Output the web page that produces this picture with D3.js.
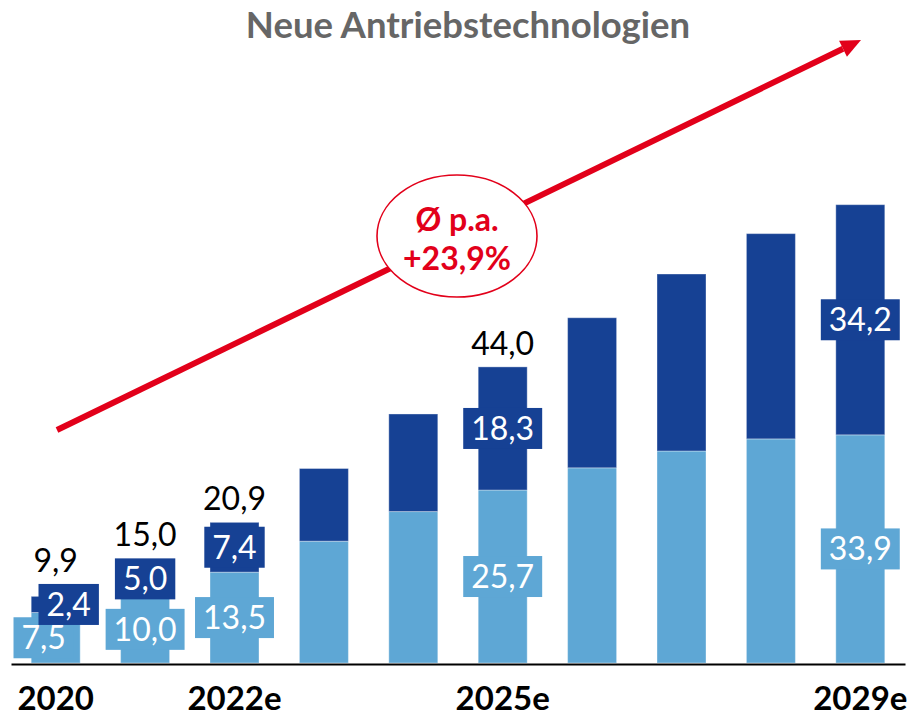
<!DOCTYPE html>
<html>
<head>
<meta charset="utf-8">
<script src="https://cdn.jsdelivr.net/npm/d3@7/dist/d3.min.js"></script>
<style>
  html, body { margin: 0; padding: 0; background: #fff; }
  svg { display: block; font-family: Lato, "Open Sans", sans-serif; }
</style>
</head>
<body>
<svg id="chart" width="912" height="716"></svg>
<script>
// ---- data ----
const categories = ["2020", "2021e", "2022e", "2023e", "2024e", "2025e", "2026e", "2027e", "2028e", "2029e"];
const tickLabels = ["2020", "2022e", "2025e", "2029e"];
const lightValues = [7.5, 10.0, 13.5, 18.1, 22.5, 25.7, 29.0, 31.5, 33.3, 33.9];
const darkValues  = [2.4, 5.0, 7.4, 10.8, 14.5, 18.3, 22.3, 26.3, 30.5, 34.2];
const segmentLabelShown = [true, true, true, false, false, true, false, false, false, true];
const totalLabelShown   = [true, true, true, false, false, true, false, false, false, false];
const titleText = "Neue Antriebstechnologien";
const badgeLines = ["Ø p.a.", "+23,9%"];

// ---- setup ----
const svg = d3.select("#chart");
const DARK = "#164194", LIGHT = "#5ea7d5", RED = "#e2001a";
const fmt = d3.formatLocale({decimal: ",", thousands: ".", grouping: [3], currency: ["", "€"]}).format(".1f");

const x = d3.scaleBand().domain(categories).range([11, 905]).paddingInner(0.452).paddingOuter(0.226);
const y = d3.scaleLinear().domain([0, 70]).range([663, 663 - 70 * 6.73]);

const rows = categories.map((c, i) => ({
  cat: c, light: lightValues[i], dark: darkValues[i],
  total: lightValues[i] + darkValues[i],
  seg: segmentLabelShown[i], tot: totalLabelShown[i]
}));

// title
svg.append("text").attr("x", 468).attr("y", 38).attr("text-anchor", "middle")
  .attr("font-size", 36.5).attr("font-weight", 700).attr("fill", "#666666").text(titleText);

// arrow
const T = [861, 40], S = [57, 430];
const dx = T[0] - S[0], dy = T[1] - S[1], L = Math.hypot(dx, dy);
const u = [dx / L, dy / L], nrm = [-u[1], u[0]];
const B = [T[0] - 20 * u[0], T[1] - 20 * u[1]];
svg.append("line").attr("x1", S[0]).attr("y1", S[1]).attr("x2", B[0]).attr("y2", B[1])
  .attr("stroke", RED).attr("stroke-width", 6);
svg.append("polygon").attr("fill", RED).attr("points", [
  T, [B[0] + 9 * nrm[0], B[1] + 9 * nrm[1]], [B[0] - 9 * nrm[0], B[1] - 9 * nrm[1]]
].map(p => p.join(",")).join(" "));

// badge
const badge = svg.append("g");
badge.append("ellipse").attr("cx", 457).attr("cy", 236).attr("rx", 80).attr("ry", 61)
  .attr("fill", "#fff").attr("stroke", RED).attr("stroke-width", 1.6);
badge.selectAll("text").data(badgeLines).join("text")
  .attr("x", 457).attr("y", (d, i) => 231 + i * 39).attr("text-anchor", "middle")
  .attr("font-size", 32).attr("font-weight", 700).attr("fill", RED).text(d => d);

// bars
const g = svg.append("g");
g.selectAll("rect.light").data(rows).join("rect").attr("class", "light")
  .attr("x", d => x(d.cat)).attr("width", x.bandwidth())
  .attr("y", d => y(d.light)).attr("height", d => y(0) - y(d.light))
  .attr("fill", LIGHT).attr("stroke", "rgba(255,255,255,0.35)").attr("stroke-width", 1);
g.selectAll("rect.dark").data(rows).join("rect").attr("class", "dark")
  .attr("x", d => x(d.cat)).attr("width", x.bandwidth())
  .attr("y", d => y(d.total)).attr("height", d => y(d.light) - y(d.total))
  .attr("fill", DARK).attr("stroke", "rgba(255,255,255,0.35)").attr("stroke-width", 1);

// axis
const axis = svg.append("g").attr("transform", "translate(0,664)")
  .call(d3.axisBottom(x).tickValues(tickLabels).tickSize(0).tickPadding(0));
axis.select(".domain").attr("stroke", "#000").attr("stroke-width", 2);
axis.selectAll(".tick text").attr("dy", null).attr("y", 46)
  .attr("font-family", "Lato, sans-serif").attr("font-size", 33).attr("font-weight", 700).attr("fill", "#000");

// segment labels
const BOXH = 41, PAD = 8, FS = 32;
const labelData = [];
rows.forEach(d => {
  if (!d.seg) return;
  const cx = x(d.cat) + x.bandwidth() / 2;
  const lc = (y(0) + y(d.light)) / 2, dc = (y(d.light) + y(d.total)) / 2;
  const overlap = (lc - dc) < BOXH;
  labelData.push({d, kind: "light", v: d.light, cx: cx + (overlap ? -12 : 0), cy: lc, fill: LIGHT});
  labelData.push({d, kind: "dark", v: d.dark, cx: cx + (overlap ? 13 : 0), cy: dc, fill: DARK});
});
const lg = svg.append("g");
labelData.forEach(l => {
  const grp = lg.append("g");
  const t = grp.append("text").attr("x", l.cx).attr("y", l.cy + FS * 0.36)
    .attr("text-anchor", "middle").attr("font-size", FS).attr("fill", "#fff").text(fmt(l.v));
  const w = t.node().getBBox().width + 2 * PAD;
  grp.insert("rect", "text").attr("x", l.cx - w / 2).attr("y", l.cy - BOXH / 2)
    .attr("width", w).attr("height", BOXH).attr("fill", l.fill);
  l.top = l.cy - BOXH / 2;
  if (l.kind === "dark") l.d.darkTop = l.top;
});

// totals
svg.append("g").selectAll("text").data(rows.filter(d => d.tot)).join("text")
  .attr("x", d => x(d.cat) + x.bandwidth() / 2)
  .attr("y", d => Math.min(y(d.total), d.darkTop ?? Infinity) - 12)
  .attr("text-anchor", "middle").attr("font-size", FS).attr("fill", "#000")
  .text(d => fmt(d.total));
</script>
</body>
</html>
